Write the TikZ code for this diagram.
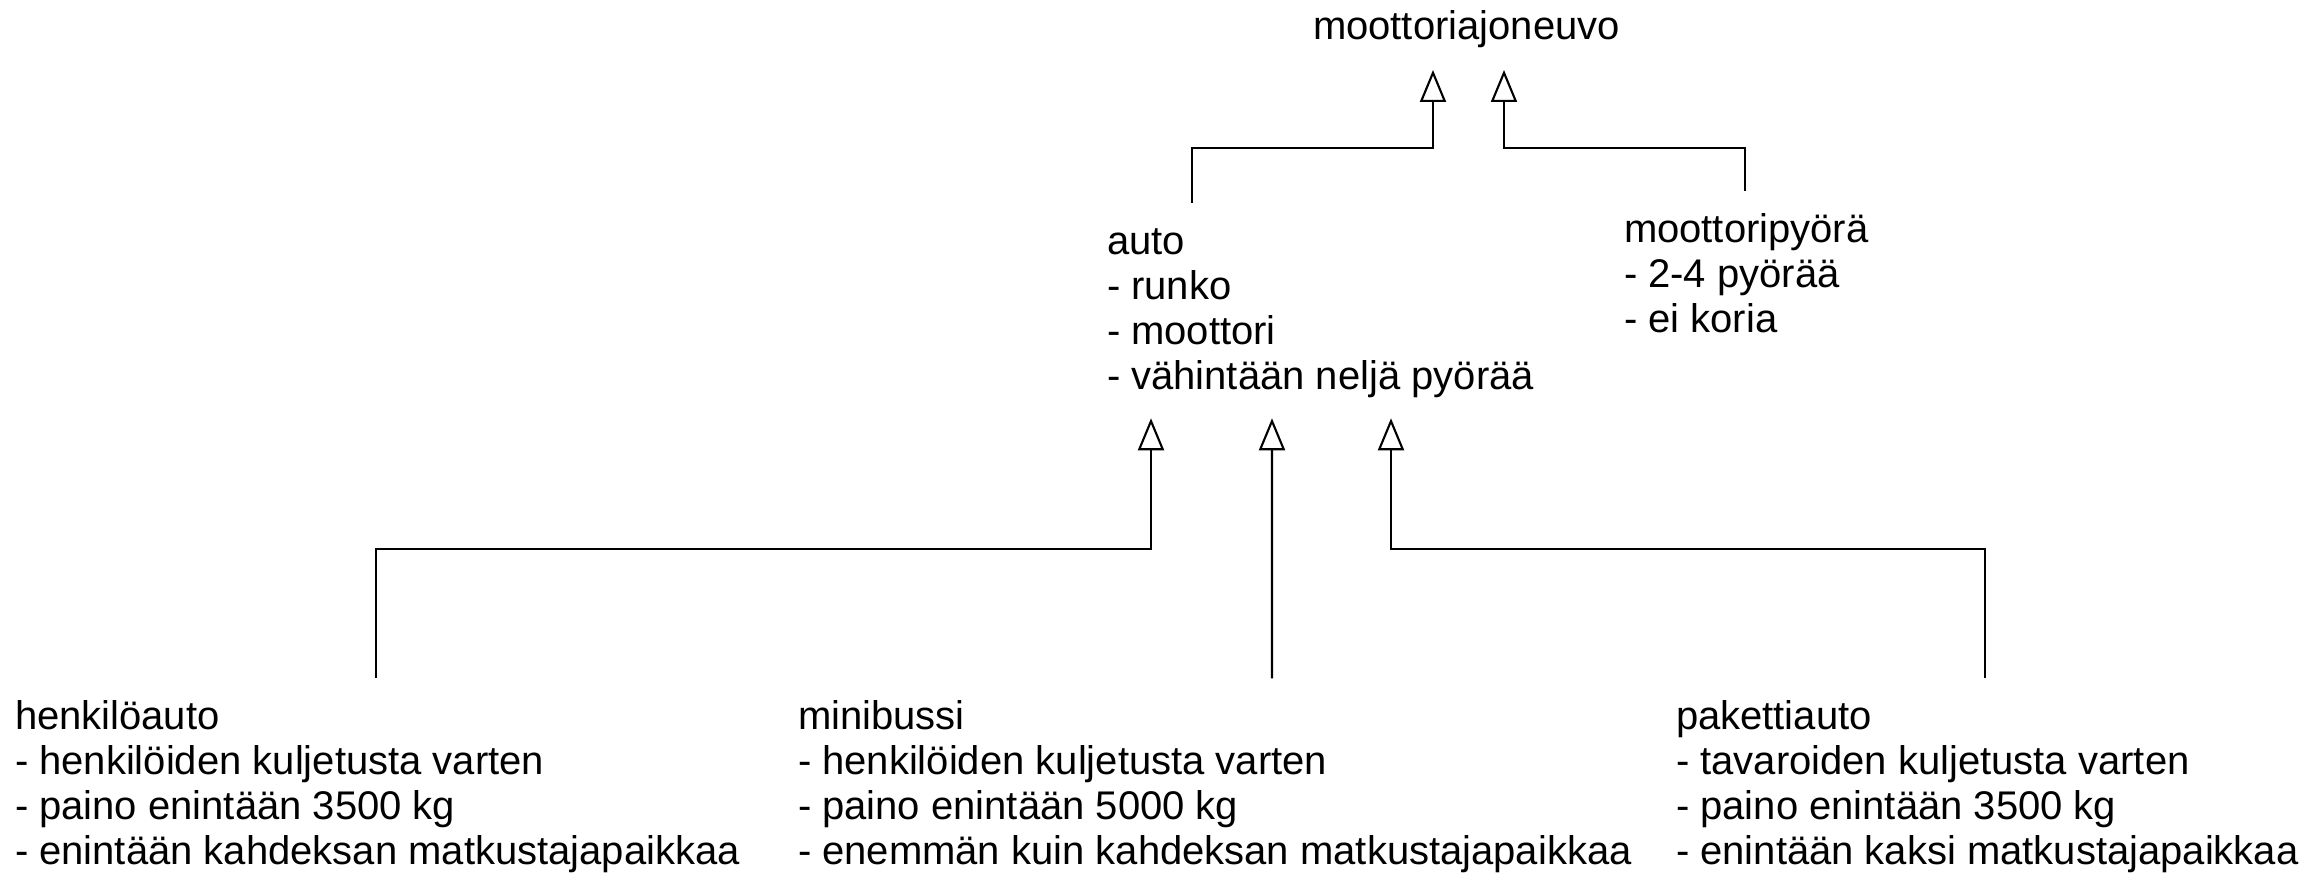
\documentclass[tikz,border=0pt]{standalone}
\usepackage{fontspec}
\setmainfont{Liberation Sans}
\usetikzlibrary{positioning,arrows.meta}

\begin{document}
\begin{tikzpicture}

\tikzstyle{luokka} = [inner sep=0pt, outer sep=0pt, anchor=north west, align=left, font=\fontsize{11.38pt}{12.8pt}\selectfont]
\tikzstyle{periytyy} = [line width=0.6pt, -{Triangle[open, length=3.2mm, width=2.6mm]}]

\newcommand{\luokka}[2]{node (#1) [luokka]
{\strut #2}}

\useasboundingbox (0,0) rectangle (23.05,8.73);

\path (13.13,8.645) \luokka{ajoneuvo}{moottoriajoneuvo};
\path (ajoneuvo.north west)+(-2.06,-2.15) \luokka{auto}{auto\\- runko\\- moottori\\- vähintään neljä pyörää};
\path (ajoneuvo.north west)+(3.11,-2.03) \luokka{pyora}{moottoripyörä\\- 2-4 pyörää\\- ei koria};

\path (auto.north west)+(-10.92,-4.75) \luokka{henkilo}{henkilöauto\\- henkilöiden kuljetusta varten\\- paino enintään 3500 kg\\- enintään kahdeksan matkustajapaikkaa};
\path (auto.north west)+(-3.09,-4.75) \luokka{bussi}{minibussi\\- henkilöiden kuljetusta varten\\- paino enintään 5000 kg\\- enemmän kuin kahdeksan matkustajapaikkaa};
\path (auto.north west)+(5.69,-4.75) \luokka{paketti}{pakettiauto\\- tavaroiden kuljetusta varten\\- paino enintään 3500 kg\\- enintään kaksi matkustajapaikkaa};

% arrow tips under the parents
\path (ajoneuvo.north west)+(1.20,-0.615) coordinate (k1);
\path (ajoneuvo.north west)+(1.91,-0.615) coordinate (k2);
\path (auto.north west)+(0.44,-1.948) coordinate (k3);
\path (auto.north west)+(1.65,-1.948) coordinate (k4);
\path (auto.north west)+(2.84,-1.948) coordinate (k5);

% line ends above the children
\path (auto.north west)+(0.85,0.205) coordinate (a1);
\path (pyora.north west)+(1.21,0.205) coordinate (a2);
\path (henkilo.north west)+(3.61,0.202) coordinate (a3);
\path (bussi.north west)+(4.74,0.202) coordinate (a4);
\path (paketti.north west)+(3.09,0.202) coordinate (a5);

\draw[periytyy] (a1) -- ++(0,0.55) -| (k1);
\draw[periytyy] (a2) -- ++(0,0.43) -| (k2);
\draw[periytyy] (a3) -- ++(0,1.29) -| (k3);
\draw[periytyy] (a4) -- (k4);
\draw[periytyy] (a5) -- ++(0,1.29) -| (k5);

\end{tikzpicture}
\end{document}
